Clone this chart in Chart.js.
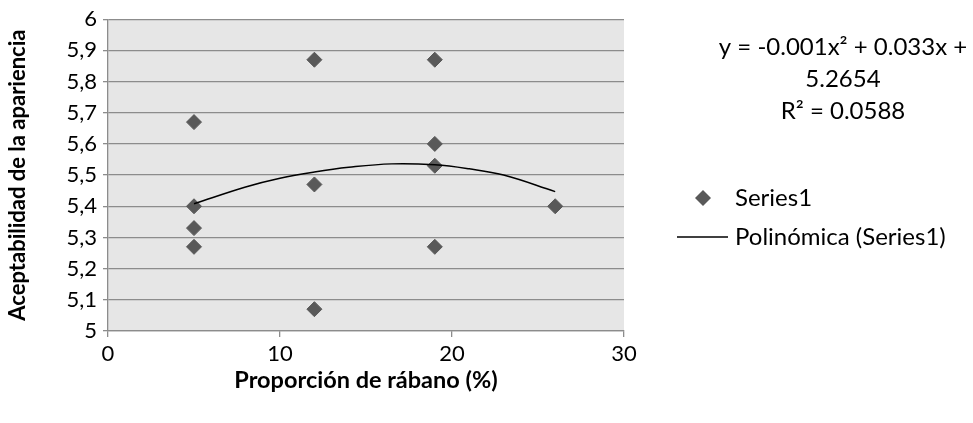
<!DOCTYPE html>
<html>
<head>
<meta charset="utf-8">
<script src="https://cdn.jsdelivr.net/npm/chart.js@4.4.0/dist/chart.umd.min.js"></script>
<style>
  html, body { margin: 0; padding: 0; background: #ffffff; }
  #wrap { width: 973px; height: 423px; position: relative; }
</style>
</head>
<body>
<div id="wrap"><canvas id="chart" width="973" height="423"></canvas></div>
<script>
// Datos
const proporcion = [5, 5, 5, 5, 12, 12, 12, 19, 19, 19, 19, 26];
const aceptabilidad = [5.67, 5.40, 5.33, 5.27, 5.87, 5.47, 5.07, 5.87, 5.60, 5.53, 5.27, 5.40];

// Línea de tendencia polinómica
const tendenciaX = [5, 8, 10, 12, 14, 16.5, 19, 21, 23, 26];
const tendenciaY = [5.408, 5.462, 5.49, 5.51, 5.525, 5.536, 5.533, 5.52, 5.50, 5.447];

const ecuacion = ['y = -0.001x² + 0.033x +', '5.2654', 'R² = 0.0588'];
const nombreSerie = 'Series1';
const nombreTendencia = 'Polinómica (Series1)';

const FONT = 'Lato';
const GRID = '#8c8c8c';
const MARKER = '#595959';

// Fondo gris del área de trazado
const fondoPlugin = {
    id: 'fondo',
    beforeDraw(chart) {
        const {ctx, chartArea: a} = chart;
        ctx.save();
        ctx.fillStyle = '#e6e6e6';
        ctx.fillRect(a.left, a.top, a.right - a.left, a.bottom - a.top);
        ctx.restore();
    }
};

// Ecuación y leyenda a la derecha
const leyendaPlugin = {
    id: 'leyenda',
    afterDraw(chart) {
        const ctx = chart.ctx;
        ctx.save();
        ctx.fillStyle = '#000';
        ctx.font = '24px ' + FONT;
        ctx.textAlign = 'center';
        ctx.textBaseline = 'middle';
        ecuacion.forEach((t, i) => ctx.fillText(t, 843, 47 + i * 32));

        // Series1
        ctx.fillStyle = MARKER;
        ctx.beginPath();
        ctx.moveTo(703, 190);
        ctx.lineTo(711, 198);
        ctx.lineTo(703, 206);
        ctx.lineTo(695, 198);
        ctx.closePath();
        ctx.fill();
        ctx.fillStyle = '#000';
        ctx.textAlign = 'left';
        ctx.fillText(nombreSerie, 735, 198);

        // Polinómica
        ctx.strokeStyle = '#000';
        ctx.lineWidth = 1.5;
        ctx.beginPath();
        ctx.moveTo(677, 237);
        ctx.lineTo(728, 237);
        ctx.stroke();
        ctx.fillText(nombreTendencia, 735, 237);
        ctx.restore();
    }
};

const ctx = document.getElementById('chart').getContext('2d');
const chart = new Chart(ctx, {
    type: 'scatter',
    data: {
        datasets: [{
            label: nombreSerie,
            data: proporcion.map((x, i) => ({x: x, y: aceptabilidad[i]})),
            pointStyle: 'rectRot',
            pointRadius: 7.5,
            pointBackgroundColor: MARKER,
            pointBorderColor: MARKER,
            pointBorderWidth: 1,
            order: 2
        }, {
            label: nombreTendencia,
            type: 'line',
            data: tendenciaX.map((x, i) => ({x: x, y: tendenciaY[i]})),
            borderColor: '#000',
            borderWidth: 1.5,
            pointRadius: 0,
            tension: 0.4,
            fill: false,
            order: 1
        }]
    },
    options: {
        responsive: false,
        animation: false,
        events: [],
        layout: { padding: { left: 0, top: 17, right: 349, bottom: 0 } },
        plugins: {
            legend: { display: false },
            tooltip: { enabled: false }
        },
        scales: {
            x: {
                type: 'linear',
                min: 0,
                max: 30,
                ticks: {
                    stepSize: 10,
                    color: '#000',
                    padding: 4,
                    font: { family: FONT, size: 22 }
                },
                grid: {
                    drawOnChartArea: false,
                    drawTicks: true,
                    tickLength: 6,
                    color: GRID,
                    lineWidth: 1.3
                },
                border: { color: GRID, width: 1.3 },
                title: {
                    display: true,
                    text: 'Proporción de rábano (%)',
                    color: '#000',
                    font: { family: FONT, size: 23.5, weight: 'bold' },
                    padding: { top: 0, bottom: 28 }
                },
                afterFit(scale) { scale.height = 92; }
            },
            y: {
                min: 5,
                max: 6,
                ticks: {
                    stepSize: 0.1,
                    color: '#000',
                    padding: 6,
                    font: { family: FONT, size: 22 },
                    callback: v => (Math.round(v * 10) / 10).toString().replace('.', ',')
                },
                grid: {
                    color: GRID,
                    lineWidth: 1.3,
                    tickLength: 5
                },
                border: { color: GRID, width: 1.3 },
                title: {
                    display: true,
                    text: 'Aceptabilidad de la apariencia',
                    color: '#000',
                    font: { family: FONT, size: 22, weight: 'bold' },
                    padding: { top: 5, bottom: 0 }
                },
                afterFit(scale) { scale.width = 108; }
            }
        }
    },
    plugins: [fondoPlugin, leyendaPlugin]
});
</script>
</body>
</html>
